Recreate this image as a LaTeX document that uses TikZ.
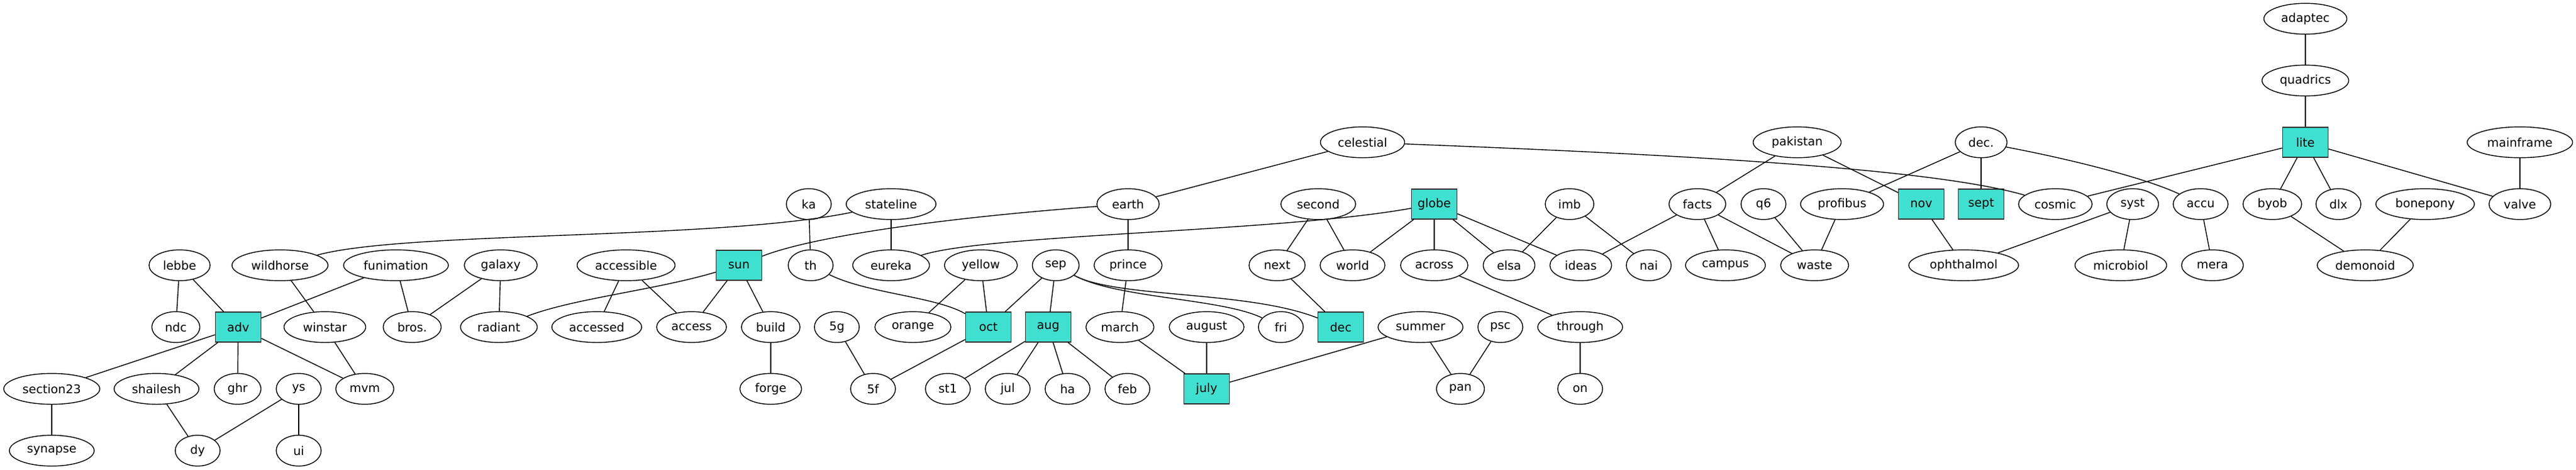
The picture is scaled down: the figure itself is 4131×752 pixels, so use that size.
\documentclass[tikz,border=0pt]{standalone}
\usepackage{fontspec}
\setmainfont{DejaVu Sans}
\usetikzlibrary{shapes.geometric}
\definecolor{turq}{HTML}{40E0D0}
\tikzset{
  el/.style={ellipse, draw, line width=0.7pt, minimum width=#1*0.5pt, minimum height=24.7pt, inner sep=0pt, font=\fontsize{9.6}{11}\selectfont},
  bx/.style={rectangle, draw=black!80, fill=turq, line width=0.7pt, minimum width=36.5pt, minimum height=24pt, inner sep=0pt, font=\fontsize{9.6}{11}\selectfont},
  ed/.style={line width=0.7pt}
}
\begin{document}
\begin{tikzpicture}[x=0.5pt,y=-0.5pt]
\useasboundingbox (0,0) rectangle (4131,752);
% rank 0-2
\node[el=133] (adaptec) at (3697,30) {adaptec};
\node[el=139] (quadrics) at (3697,129) {quadrics};
\node[el=135] (celestial) at (2185,228) {celestial};
\node[el=141] (pakistan) at (2882,228) {pakistan};
\node[el=83] (decp) at (3177,228) {dec.};
\node[bx] (lite) at (3697,228) {lite};
\node[el=169] (mainframe) at (4041,228) {mainframe};
% rank 3
\node[el=72] (ka) at (1297,327) {ka};
\node[el=144] (stateline) at (1429,327) {stateline};
\node[el=100] (earth) at (1809,327) {earth};
\node[el=120] (second) at (2114,327) {second};
\node[bx] (globe) at (2300,327) {globe};
\node[el=78] (imb) at (2517,327) {imb};
\node[el=91] (facts) at (2722,327) {facts};
\node[el=72] (q6) at (2828,327) {q6};
\node[el=133] (profibus) at (2954,327) {profibus};
\node[bx] (nov) at (3081,327) {nov};
\node[bx] (sept) at (3177,327) {sept};
\node[el=118] (cosmic) at (3296,327) {cosmic};
\node[el=83] (syst) at (3420,327) {syst};
\node[el=88] (accu) at (3529,327) {accu};
\node[el=94] (byob) at (3644,327) {byob};
\node[el=72] (dlx) at (3750,327) {dlx};
\node[el=158] (bonepony) at (3889,327) {bonepony};
\node[el=99] (valve) at (4041,327) {valve};
% rank 4
\node[el=98] (lebbe) at (288,425) {lebbe};
\node[el=154] (wildhorse) at (449,425) {wildhorse};
\node[el=168] (funimation) at (635,425) {funimation};
\node[el=117] (galaxy) at (803,425) {galaxy};
\node[el=157] (accessible) at (1004,425) {accessible};
\node[bx] (sun) at (1185,425) {sun};
\node[el=72] (th) at (1300,425) {th};
\node[el=123] (eureka) at (1429,425) {eureka};
\node[el=117] (yellow) at (1573,425) {yellow};
\node[el=75] (sep) at (1693,425) {sep};
\node[el=109] (prince) at (1809,425) {prince};
\node[el=90] (next) at (2048,425) {next};
\node[el=104] (world) at (2169,425) {world};
\node[el=108] (across) at (2300,425) {across};
\node[el=83] (elsa) at (2420,425) {elsa};
\node[el=99] (ideas) at (2535,425) {ideas};
\node[el=72] (nai) at (2644,425) {nai};
\node[el=128] (campus) at (2767,425) {campus};
\node[el=109] (waste) at (2910,425) {waste};
\node[el=176] (ophthalmol) at (3149,425) {ophthalmol};
\node[el=147] (microbiol) at (3401,425) {microbiol};
\node[el=99] (mera) at (3548,425) {mera};
\node[el=154] (demonoid) at (3793,425) {demonoid};
% rank 5
\node[el=77] (ndc) at (282,524) {ndc};
\node[bx] (adv) at (382,524) {adv};
\node[el=131] (winstar) at (521,524) {winstar};
\node[el=93] (bros) at (661,524) {bros.};
\node[el=123] (radiant) at (800,524) {radiant};
\node[el=144] (accessed) at (957,524) {accessed};
\node[el=112] (access) at (1109,524) {access};
\node[el=94] (build) at (1236,524) {build};
\node[el=72] (n5g) at (1342,524) {5g};
\node[el=122] (orange) at (1464,524) {orange};
\node[bx] (oct) at (1585,524) {oct};
\node[bx] (aug) at (1681,524) {aug};
\node[el=109] (march) at (1796,524) {march};
\node[el=120] (august) at (1935,524) {august};
\node[el=72] (fri) at (2054,524) {fri};
\node[bx] (decm) at (2150,524) {dec};
\node[el=136] (summer) at (2278,524) {summer};
\node[el=72] (psc) at (2406,524) {psc};
\node[el=136] (through) at (2534,524) {through};
% rank 6
\node[el=154] (section23) at (83,623) {section23};
\node[el=136] (shailesh) at (251,623) {shailesh};
\node[el=75] (ghr) at (381,623) {ghr};
\node[el=72] (ys) at (479,623) {ys};
\node[el=93] (mvm) at (585,623) {mvm};
\node[el=99] (forge) at (1236,623) {forge};
\node[el=72] (n5f) at (1400,623) {5f};
\node[el=72] (st1) at (1520,623) {st1};
\node[el=72] (jul) at (1616,623) {jul};
\node[el=72] (ha) at (1712,623) {ha};
\node[el=72] (feb) at (1808,623) {feb};
\node[bx] (july) at (1935,623) {july};
\node[el=77] (pan) at (2342,623) {pan};
\node[el=72] (on) at (2534,623) {on};
% rank 7
\node[el=136] (synapse) at (83,722) {synapse};
\node[el=72] (dy) at (317,722) {dy};
\node[el=72] (ui) at (479,722) {ui};
% straight edges
\draw[ed] (adaptec) -- (quadrics);
\draw[ed] (quadrics) -- (lite);
\draw[ed] (lite) -- (cosmic);
\draw[ed] (lite) -- (byob);
\draw[ed] (lite) -- (dlx);
\draw[ed] (lite) -- (valve);
\draw[ed] (mainframe) -- (valve);
\draw[ed] (celestial) -- (earth);
\draw[ed] (pakistan) -- (facts);
\draw[ed] (pakistan) -- (nov);
\draw[ed] (decp) -- (profibus);
\draw[ed] (decp) -- (sept);
\draw[ed] (ka) -- (th);
\draw[ed] (stateline) -- (eureka);
\draw[ed] (earth) -- (prince);
\draw[ed] (second) -- (next);
\draw[ed] (second) -- (world);
\draw[ed] (globe) -- (world);
\draw[ed] (globe) -- (across);
\draw[ed] (globe) -- (elsa);
\draw[ed] (globe) -- (ideas);
\draw[ed] (imb) -- (elsa);
\draw[ed] (imb) -- (nai);
\draw[ed] (facts) -- (ideas);
\draw[ed] (facts) -- (campus);
\draw[ed] (facts) -- (waste);
\draw[ed] (q6) -- (waste);
\draw[ed] (profibus) -- (waste);
\draw[ed] (nov) -- (ophthalmol);
\draw[ed] (syst) -- (ophthalmol);
\draw[ed] (syst) -- (microbiol);
\draw[ed] (accu) -- (mera);
\draw[ed] (byob) -- (demonoid);
\draw[ed] (bonepony) -- (demonoid);
\draw[ed] (lebbe) -- (ndc);
\draw[ed] (lebbe) -- (adv);
\draw[ed] (funimation) -- (adv);
\draw[ed] (funimation) -- (bros);
\draw[ed] (wildhorse) -- (winstar);
\draw[ed] (galaxy) -- (bros);
\draw[ed] (galaxy) -- (radiant);
\draw[ed] (accessible) -- (accessed);
\draw[ed] (accessible) -- (access);
\draw[ed] (sun) -- (access);
\draw[ed] (sun) -- (build);
\draw[ed] (yellow) -- (orange);
\draw[ed] (yellow) -- (oct);
\draw[ed] (sep) -- (oct);
\draw[ed] (sep) -- (aug);
\draw[ed] (prince) -- (march);
\draw[ed] (next) -- (decm);
\draw[ed] (across) -- (through);
\draw[ed] (adv) -- (section23);
\draw[ed] (adv) -- (shailesh);
\draw[ed] (adv) -- (ghr);
\draw[ed] (adv) -- (mvm);
\draw[ed] (winstar) -- (mvm);
\draw[ed] (build) -- (forge);
\draw[ed] (n5g) -- (n5f);
\draw[ed] (oct) -- (n5f);
\draw[ed] (aug) -- (st1);
\draw[ed] (aug) -- (jul);
\draw[ed] (aug) -- (ha);
\draw[ed] (aug) -- (feb);
\draw[ed] (march) -- (july);
\draw[ed] (august) -- (july);
\draw[ed] (summer) -- (july);
\draw[ed] (summer) -- (pan);
\draw[ed] (psc) -- (pan);
\draw[ed] (through) -- (on);
\draw[ed] (section23) -- (synapse);
\draw[ed] (shailesh) -- (dy);
\draw[ed] (ys) -- (dy);
\draw[ed] (ys) -- (ui);
% curved edges
\draw[ed] (wildhorse) .. controls (650,370) and (1150,385) .. (stateline);
\draw[ed] (sun) .. controls (1300,380) and (1500,350) .. (earth);
\draw[ed] (eureka) .. controls (1580,375) and (2050,372) .. (globe);
\draw[ed] (th) .. controls (1390,470) and (1500,475) .. (oct);
\draw[ed] (sep) .. controls (1790,478) and (2000,465) .. (decm);
\draw[ed] (sep) .. controls (1790,478) and (1960,478) .. (fri);
\draw[ed] (celestial) .. controls (2700,248) and (3100,270) .. (cosmic);
\draw[ed] (decp) .. controls (3320,255) and (3440,285) .. (accu);
\draw[ed] (sun) .. controls (1050,465) and (920,478) .. (radiant);
\end{tikzpicture}
\end{document}
